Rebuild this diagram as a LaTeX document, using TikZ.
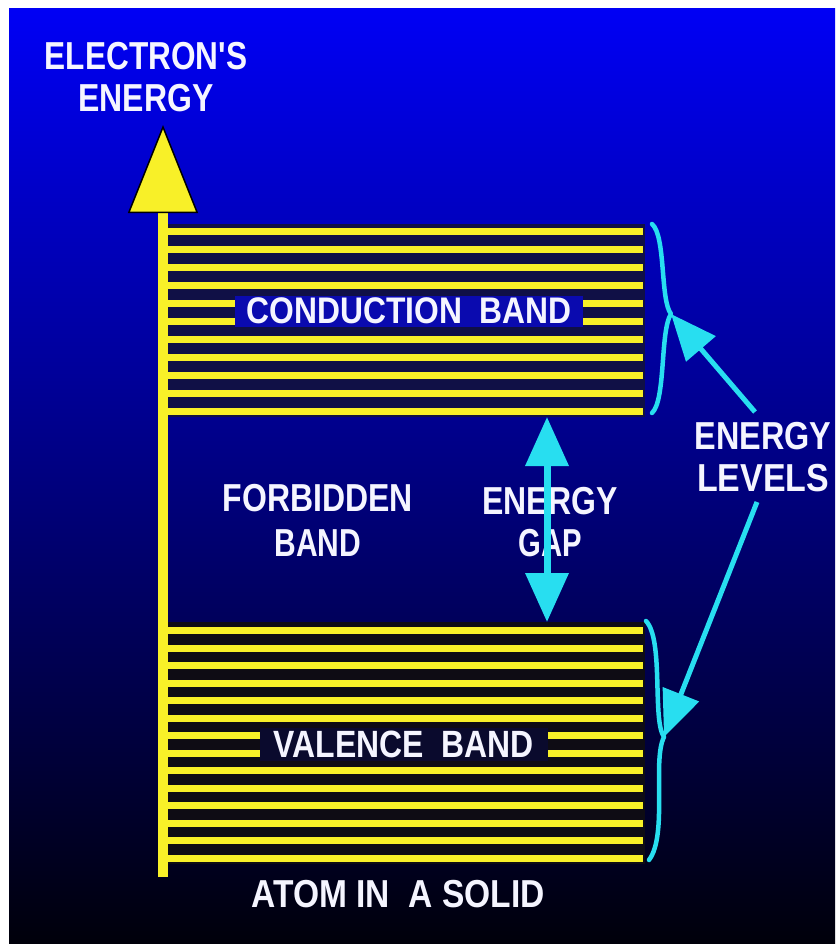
\documentclass[tikz,border=0pt]{standalone}
\usepackage{fontspec}
\setmainfont{Liberation Sans}
\usetikzlibrary{arrows.meta}
\definecolor{bgtop}{RGB}{0,0,245}
\definecolor{bgmid}{RGB}{10,10,170}
\definecolor{bgbot}{RGB}{0,0,10}
\definecolor{bandyel}{RGB}{248,240,40}
\definecolor{cbdark}{RGB}{16,16,70}
\definecolor{vbdark}{RGB}{14,12,20}
\definecolor{cyanarr}{RGB}{40,222,240}
\definecolor{txtwhite}{RGB}{245,245,255}
\definecolor{cblabel}{RGB}{10,10,175}
\definecolor{vblabel}{RGB}{10,10,45}
\newcommand{\sqz}[2][0.82]{\scalebox{#1}[1]{#2}}
\begin{document}
\begin{tikzpicture}[x=1pt,y=-1pt,
  lbl/.style={text=txtwhite, font=\fontsize{39}{42}\selectfont\bfseries, inner sep=0pt, align=center},
  bandbox/.style={inner sep=0pt, outer sep=0pt, minimum width=477pt},
  stripe/.style={fill=bandyel},
  gaparrow/.style={draw=cyanarr, line width=7pt, {Triangle[length=49pt,width=42pt]}-{Triangle[length=49pt,width=42pt]}},
  levarrow/.style={draw=cyanarr, line width=5pt, -{Triangle[length=46pt,width=38pt]}},
  bracestyle/.style={draw=cyanarr, line width=4.5pt, line cap=round, line join=round},
  axisarrow/.style={draw=bandyel, line width=10pt, -{Triangle[length=88pt,width=70pt,fill=bandyel,color=black,line width=1.5pt]}}
]
\useasboundingbox (0,0) rectangle (835,944);
\fill[white] (0,0) rectangle (835,944);
\shade[top color=bgtop, middle color=bgmid, bottom color=bgbot] (9,9) rectangle (835,944);

% bands
\node[bandbox, fill=cbdark, minimum height=193pt] (cb) at (406.5,320.5) {};
\foreach \k in {0,...,10} \fill[stripe] (168,{228+18*\k}) rectangle (643,{235+18*\k});
\node[bandbox, fill=vbdark, minimum height=242pt] (vb) at (406.5,743) {};
\foreach \k in {0,...,13} \fill[stripe] (168,{627+17.5*\k}) rectangle (643,{634+17.5*\k});

% band labels
\node[lbl, fill=cblabel, minimum width=348pt, minimum height=31pt, font=\fontsize{37}{40}\selectfont\bfseries] (cbl) at (409,311) {\sqz[0.86]{CONDUCTION\ \ BAND}};
\node[lbl, fill=vblabel, minimum width=288pt, minimum height=33pt, font=\fontsize{38}{40}\selectfont\bfseries] (vbl) at (404,744) {\sqz[0.84]{VALENCE\ \ BAND}};

% axis
\coordinate (axb) at (163,877);
\coordinate (axt) at (163,125);
\draw[axisarrow] (axb) -- (axt);

% texts
\node[lbl] (ee) at (146,77) {\sqz[0.81]{ELECTRON\textquotesingle S}\\\sqz[0.82]{ENERGY}};
\node[lbl] (fb) at (318,520) {\sqz[0.82]{FORBIDDEN}\\[3pt]\sqz[0.77]{BAND}};
\node[lbl] (eg) at (550,522) {\sqz[0.82]{ENERGY}\\\sqz[0.75]{GAP}};
\node[lbl] (el) at (763,457) {\sqz[0.83]{ENERGY}\\\sqz[0.87]{LEVELS}};
\node[lbl] (ais) at (398,894) {\sqz[0.86]{ATOM\ IN\ \ A\ SOLID}};

% energy gap arrow
\coordinate (gx) at (547,0);
\draw[gaparrow] (cb.south -| gx) -- (vb.north -| gx);

% braces
\coordinate (cbc) at (671,314);
\coordinate (vbc) at (664,737);
\draw[bracestyle] (652,224) .. controls (666,236) and (660,300) .. (cbc)
                  .. controls (660,330) and (666,400) .. (652,413);
\draw[bracestyle] (646,621) .. controls (664,640) and (652,720) .. (vbc)
                  .. controls (652,760) and (668,835) .. (649,860);

% energy level arrows
\coordinate (elu) at (755,412);
\coordinate (eld) at (757,502);
\draw[levarrow] (elu) -- (cbc);
\draw[levarrow] (eld) -- (vbc);
\end{tikzpicture}
\end{document}
